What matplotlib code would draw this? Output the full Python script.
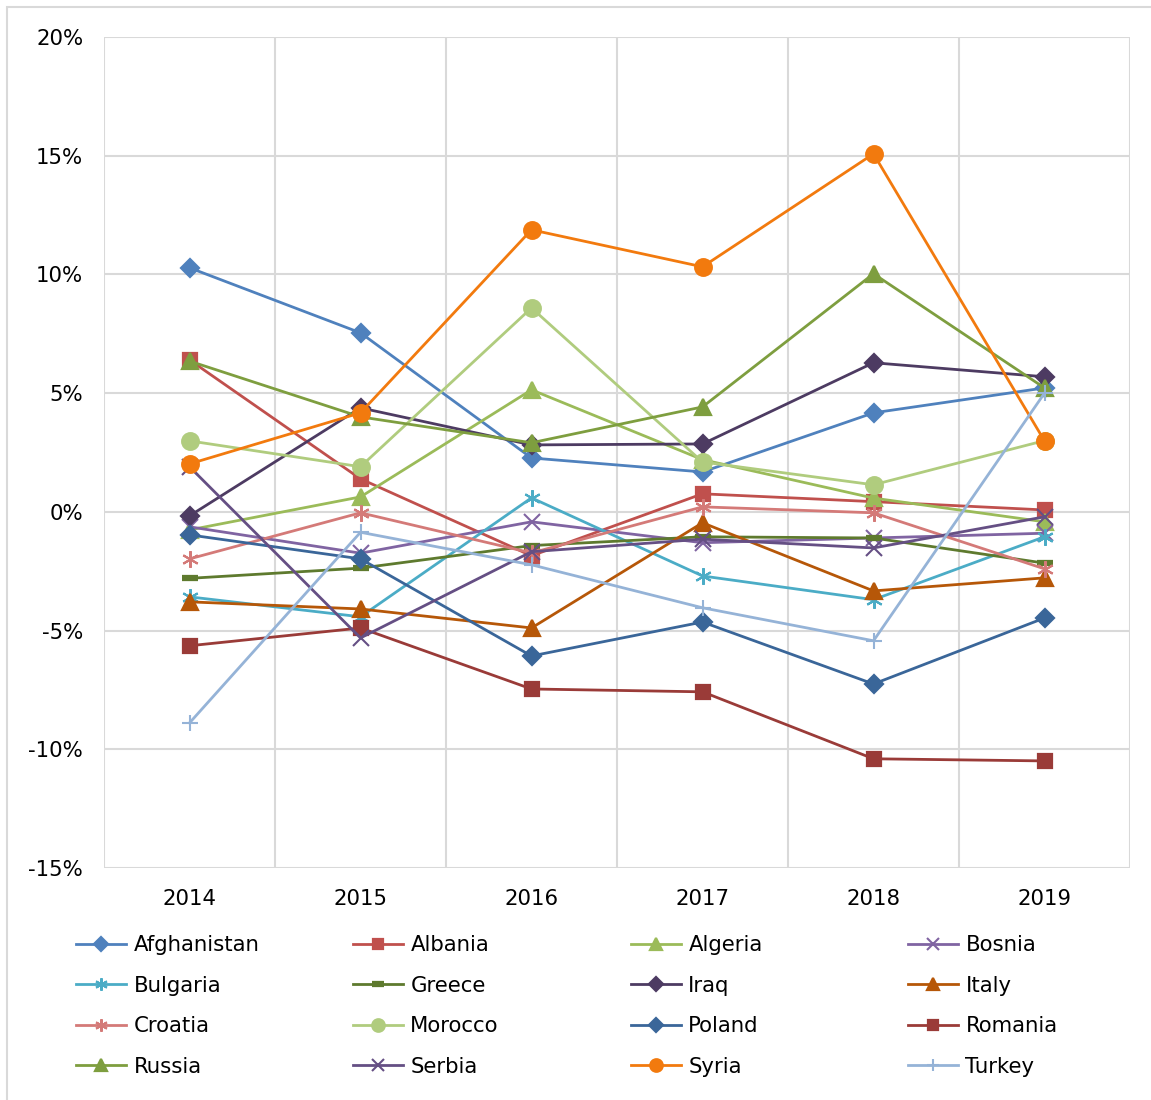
import matplotlib.pyplot as plt
import matplotlib.patches as mpatches
import numpy as np

# --- Data (share) ---
years = ['2014', '2015', '2016', '2017', '2018', '2019']

countries = ['Afghanistan', 'Albania', 'Algeria', 'Bosnia',
             'Bulgaria', 'Greece', 'Iraq', 'Italy',
             'Croatia', 'Morocco', 'Poland', 'Romania',
             'Russia', 'Serbia', 'Syria', 'Turkey']

afghanistan = [10.28, 7.54, 2.27, 1.68, 4.17, 5.22]
albania = [6.40, 1.39, -1.85, 0.76, 0.43, 0.08]
algeria = [-0.76, 0.63, 5.14, 2.20, 0.58, -0.42]
bosnia = [-0.63, -1.74, -0.42, -1.30, -1.10, -0.90]
bulgaria = [-3.58, -4.42, 0.59, -2.70, -3.70, -1.05]
greece = [-2.80, -2.37, -1.42, -1.05, -1.10, -2.16]
iraq = [-0.17, 4.38, 2.82, 2.86, 6.28, 5.69]
italy = [-3.79, -4.09, -4.89, -0.46, -3.33, -2.78]
croatia = [-1.98, -0.04, -1.73, 0.21, -0.04, -2.40]
morocco = [2.99, 1.90, 8.59, 2.10, 1.14, 3.00]
poland = [-0.97, -1.98, -6.07, -4.64, -7.25, -4.47]
romania = [-5.64, -4.89, -7.46, -7.58, -10.40, -10.49]
russia = [6.35, 4.00, 2.91, 4.42, 10.03, 5.22]
serbia = [1.90, -5.31, -1.68, -1.15, -1.52, -0.21]
syria = [2.02, 4.17, 11.88, 10.32, 15.08, 2.99]
turkey = [-8.89, -0.86, -2.23, -4.04, -5.43, 5.00]

values = [afghanistan, albania, algeria, bosnia,
          bulgaria, greece, iraq, italy,
          croatia, morocco, poland, romania,
          russia, serbia, syria, turkey]

colors = ['#4F81BD', '#C0504D', '#9BBB59', '#8064A2',
          '#4BACC6', '#5E7A2E', '#4D3B62', '#B65708',
          '#D47A78', '#B0CC7E', '#3A6699', '#9A3B38',
          '#7E9E3F', '#654F84', '#F27A0E', '#95B3D7']

asterisk = (6, 2, 0)
markers = ['D', 's', '^', 'x',
           asterisk, '_', 'D', '^',
           asterisk, 'o', 'D', 's',
           '^', 'x', 'o', '+']
msizes = [9, 10, 11, 11,
          12, 12, 9, 11,
          12, 12, 9, 10,
          11, 11, 12, 12]

FS = 15.3

fig = plt.figure(figsize=(11.51, 11.0), dpi=100)
ax = fig.add_axes([104 / 1151, 1 - 868 / 1100, (1130 - 104) / 1151, (868 - 37) / 1100])

x = np.arange(len(years))
handles = []
for name, vals, c, m, ms in zip(countries, values, colors, markers, msizes):
    mew = 1.6
    if m == '_':
        mew = 4.5
    elif m in ('x', '+') or m == asterisk:
        mew = 1.5
    h, = ax.plot(x, vals, color=c, lw=2.0, marker=m, markersize=ms,
                 markerfacecolor=c, markeredgecolor=c, markeredgewidth=mew,
                 label=name, zorder=3)
    handles.append(h)

ax.set_xlim(-0.5, len(years) - 0.5)
ax.set_ylim(-15, 20)
ax.set_yticks(np.arange(-15, 21, 5))
ax.set_yticklabels([f'{v}%' for v in range(-15, 21, 5)])
ax.set_xticks(x)
ax.set_xticklabels(years)
ax.set_xticks(np.arange(-0.5, len(years), 1.0), minor=True)

ax.grid(True, which='major', axis='y', color='#D9D9D9', lw=1.5, zorder=0)
ax.grid(True, which='minor', axis='x', color='#D9D9D9', lw=1.5, zorder=0)
ax.tick_params(axis='both', which='both', length=0, labelsize=FS, colors='black')
ax.tick_params(axis='y', pad=15)
ax.tick_params(axis='x', pad=15)
for s in ax.spines.values():
    s.set_visible(False)

# legend: four columns of four, filled row by row
col_x = [76, 353, 631, 908]
for col in range(4):
    hs = [handles[col + 4 * r] for r in range(4)]
    labs = [countries[col + 4 * r] for r in range(4)]
    fig.legend(hs, labs, loc='upper left',
               bbox_to_anchor=(col_x[col] / 1151, 1 - 935 / 1100),
               frameon=False, fontsize=FS, handlelength=2.35,
               handletextpad=0.35, labelspacing=0.97, borderpad=0,
               borderaxespad=0, markerscale=0.75)

# thin outer border (chart area frame)
fig.patches.append(mpatches.Rectangle((7 / 1151, -0.1), 1.2, 1 - 7 / 1100 + 0.1,
                                      transform=fig.transFigure, fill=False,
                                      edgecolor='#D9D9D9', lw=1.5))

fig.savefig('out.png', dpi=100)
